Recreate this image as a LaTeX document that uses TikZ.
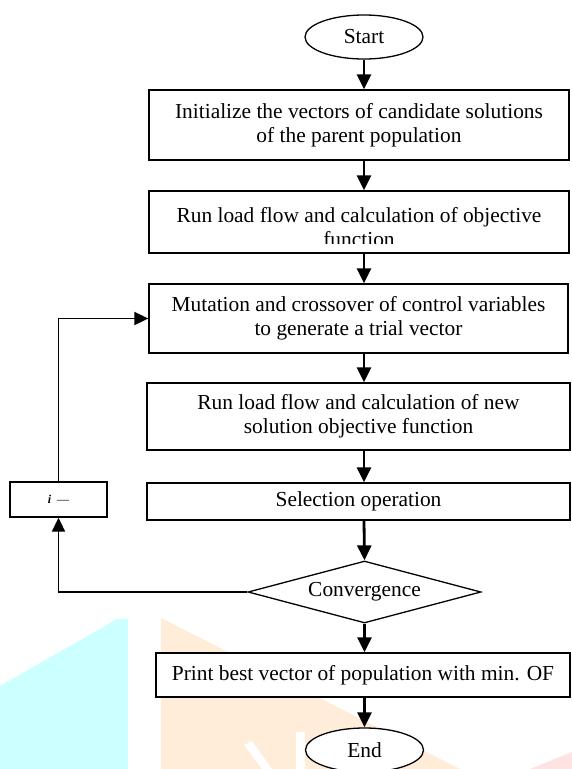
\documentclass[tikz,border=0pt]{standalone}
\usepackage{fontspec}
\setmainfont{Liberation Serif}
\usetikzlibrary{shapes.geometric,arrows.meta}
\definecolor{wmcyan}{RGB}{204,255,255}
\definecolor{wmorange}{RGB}{255,236,217}
\definecolor{wmpink}{RGB}{255,226,226}
\begin{document}
\begin{tikzpicture}[x=1pt,y=-1pt,
  txt/.style={inner sep=0pt,align=center,font=\fontsize{21.4}{24}\selectfont},
  proc/.style={txt,draw=black,line width=1.3pt,fill=white},
  term/.style={proc,ellipse,minimum width=118pt,minimum height=44pt},
  decide/.style={proc,diamond,aspect=3.76,minimum width=233pt,minimum height=62pt},
  flow/.style={line width=2.8pt,-{Triangle[length=15pt,width=14pt]}},
  loopline/.style={line width=1.9pt,-{Triangle[length=14pt,width=13pt]}}]
\def\cx{364}
\useasboundingbox (0,0) rectangle (572,769);

% watermark in the background
\fill[wmcyan] (0,686) -- (117,619) -- (128,619) -- (128,769) -- (0,769) -- cycle;
\fill[wmorange] (161,618) -- (460,769) -- (161,769) -- cycle;
\fill[white] (244,745) -- (252,741) -- (272,769) -- (262,769) -- cycle;
\fill[white] (296,732) rectangle (305,769);
\fill[wmpink] (530,769) -- (572,752) -- (572,769) -- cycle;

\node[term] (start) at (\cx,37) {Start};
\node[proc,minimum width=420pt,minimum height=70pt] (init) at (359,125) {Initialize the vectors of candidate solutions\\of the parent population};
\node[proc,minimum width=420pt,minimum height=62pt] (run) at (359,222) {};
\begin{scope}
\clip (run.north west) rectangle ([yshift=10pt]run.south east);
\node[txt,anchor=north] (runtxt) at ([yshift=-17pt]run.north) {Run load flow and calculation of objective\\function};
\end{scope}
\node[proc,minimum width=419pt,minimum height=69pt] (mut) at (358.5,318.5) {Mutation and crossover of control variables\\to generate a trial vector};
\node[proc,minimum width=423pt,minimum height=67pt] (newrun) at (358.5,416.5) {Run load flow and calculation of new\\solution objective function};
\node[proc,minimum width=423pt,minimum height=37pt] (sel) at (358.5,501.5) {Selection operation};
\node[decide] (conv) at (364.5,592) {Convergence};
\node[proc,minimum width=414pt,minimum height=44pt] (best) at (363,675) {Print best vector of population with min. OF};
\node[term] (end) at (364.5,750) {End};
\node[proc,minimum width=97pt,minimum height=35pt,font=\fontsize{12}{14}\selectfont] (dec) at (58.5,499.5) {\textbf{\textit{i}}\hspace{6pt}—};

\draw[flow] (start.south) -- (init.north -| start.south);
\draw[flow] (init.south -| start.south) -- (run.north -| start.south);
\draw[flow] (run.south -| start.south) -- (mut.north -| start.south);
\draw[flow] (mut.south -| start.south) -- (newrun.north -| start.south);
\draw[flow] (newrun.south -| start.south) -- (sel.north -| start.south);
\draw[flow] (sel.south -| start.south) -- (conv.north);
\draw[flow] (conv.south) -- (best.north -| conv.south);
\draw[flow] (best.south -| conv.south) -- (end.north);

\draw[loopline] (conv.west) -| (dec.south);
\draw[loopline] (dec.north) |- (mut.west);
\end{tikzpicture}
\end{document}
